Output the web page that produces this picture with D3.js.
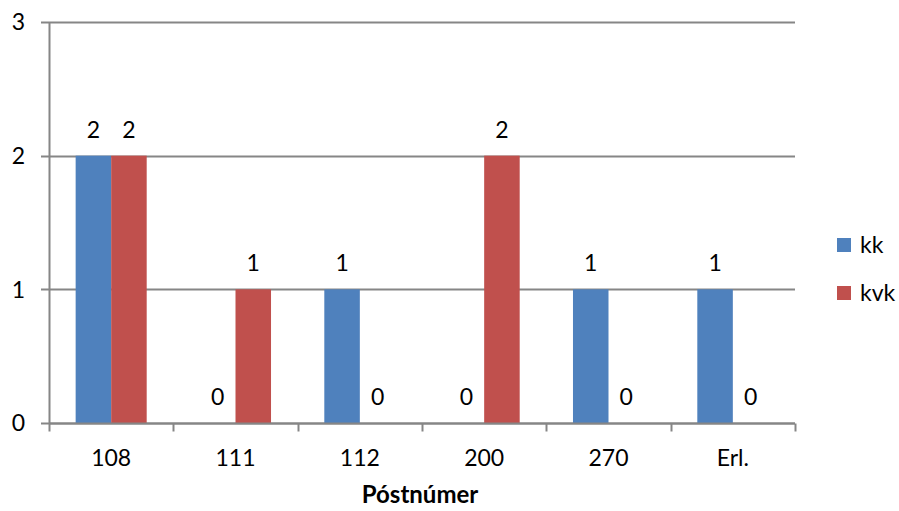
<!DOCTYPE html>
<html>
<head>
<meta charset="utf-8">
<script src="https://cdnjs.cloudflare.com/ajax/libs/d3/7.8.5/d3.min.js"></script>
<style>
  body { margin: 0; background: #fff; }
  text { font-family: Lato, "Open Sans", sans-serif; fill: #000; }
</style>
</head>
<body>
<div id="chart"></div>
<script>
// chart data
var categories = ["108", "111", "112", "200", "270", "Erl."];
var seriesNames = ["kk", "kvk"];
var kkValues = [2, 0, 1, 0, 1, 1];
var kvkValues = [2, 1, 0, 2, 0, 0];
var yTicks = [0, 1, 2, 3];
var colors = ["#4F81BD", "#C0504D"];

var width = 899, height = 511;
var margin = { left: 49, right: 104, top: 22, bottom: 88 };
var fontSize = "23px";

var svg = d3.select("#chart")
  .append("svg")
  .attr("width", width)
  .attr("height", height);

var x = d3.scaleBand()
  .domain(categories)
  .range([margin.left, width - margin.right])
  .paddingInner(0)
  .paddingOuter(0);

// bars inside each category, gap width ~150%
var xInner = d3.scaleBand()
  .domain(seriesNames)
  .range([0, x.bandwidth()])
  .paddingOuter(0.75)
  .paddingInner(0);

var y = d3.scaleLinear()
  .domain([0, 3])
  .range([height - margin.bottom, margin.top]);

var gridColor = "#868686";

// gridlines (extend left as outside ticks)
svg.append("g")
  .selectAll("line")
  .data(yTicks)
  .enter()
  .append("line")
    .attr("x1", margin.left - 8)
    .attr("x2", width - margin.right)
    .attr("y1", function (d) { return Math.round(y(d)) + 0.5; })
    .attr("y2", function (d) { return Math.round(y(d)) + 0.5; })
    .attr("stroke", gridColor)
    .attr("stroke-width", 2);

// y labels
svg.append("g")
  .selectAll("text")
  .data(yTicks)
  .enter()
  .append("text")
    .attr("x", 25)
    .attr("y", function (d) { return y(d); })
    .attr("dy", "0.36em")
    .attr("text-anchor", "end")
    .style("font-size", fontSize)
    .text(function (d) { return d; });

// bars
var rows = categories.map(function (c, i) {
  return { cat: c, values: [kkValues[i], kvkValues[i]] };
});

var groups = svg.append("g")
  .selectAll("g")
  .data(rows)
  .enter()
  .append("g")
    .attr("transform", function (d) { return "translate(" + x(d.cat) + ",0)"; });

groups.selectAll("rect")
  .data(function (d) {
    return d.values.map(function (v, j) { return { name: seriesNames[j], value: v, idx: j }; });
  })
  .enter()
  .append("rect")
    .attr("x", function (d) { return xInner(d.name); })
    .attr("width", xInner.bandwidth())
    .attr("y", function (d) { return y(d.value); })
    .attr("height", function (d) { return y(0) - y(d.value); })
    .attr("fill", function (d) { return colors[d.idx]; });

// value labels
groups.selectAll("text")
  .data(function (d) {
    return d.values.map(function (v, j) { return { name: seriesNames[j], value: v }; });
  })
  .enter()
  .append("text")
    .attr("x", function (d) { return xInner(d.name) + xInner.bandwidth() / 2; })
    .attr("y", function (d) { return y(d.value) - 18; })
    .attr("text-anchor", "middle")
    .style("font-size", fontSize)
    .text(function (d) { return d.value; });

// y axis line
svg.append("line")
  .attr("x1", margin.left + 0.5)
  .attr("x2", margin.left + 0.5)
  .attr("y1", y(3))
  .attr("y2", y(0))
  .attr("stroke", gridColor)
  .attr("stroke-width", 2);

// x axis line and ticks
var base = Math.round(y(0)) + 0.5;
svg.append("line")
  .attr("x1", margin.left)
  .attr("x2", width - margin.right)
  .attr("y1", base)
  .attr("y2", base)
  .attr("stroke", gridColor)
  .attr("stroke-width", 2);

var tickPos = categories.map(function (c) { return x(c); }).concat([width - margin.right]);
svg.append("g")
  .selectAll("line")
  .data(tickPos)
  .enter()
  .append("line")
    .attr("x1", function (d) { return Math.round(d) + 0.5; })
    .attr("x2", function (d) { return Math.round(d) + 0.5; })
    .attr("y1", base)
    .attr("y2", base + 8)
    .attr("stroke", gridColor)
    .attr("stroke-width", 2);

// category labels
svg.append("g")
  .selectAll("text")
  .data(categories)
  .enter()
  .append("text")
    .attr("x", function (d) { return x(d) + x.bandwidth() / 2; })
    .attr("y", 466)
    .attr("text-anchor", "middle")
    .style("font-size", fontSize)
    .text(function (d) { return d; });

// axis title
svg.append("text")
  .attr("x", 420)
  .attr("y", 503)
  .attr("text-anchor", "middle")
  .style("font-size", "24px")
  .style("font-weight", "bold")
  .text("Póstnúmer");

// legend
var legend = svg.append("g")
  .selectAll("g")
  .data(seriesNames)
  .enter()
  .append("g")
    .attr("transform", function (d, i) { return "translate(837," + (238 + i * 48) + ")"; });

legend.append("rect")
  .attr("width", 14)
  .attr("height", 14)
  .attr("fill", function (d, i) { return colors[i]; });

legend.append("text")
  .attr("x", 23)
  .attr("y", 7)
  .attr("dy", "0.36em")
  .style("font-size", fontSize)
  .text(function (d) { return d; });
</script>
</body>
</html>
